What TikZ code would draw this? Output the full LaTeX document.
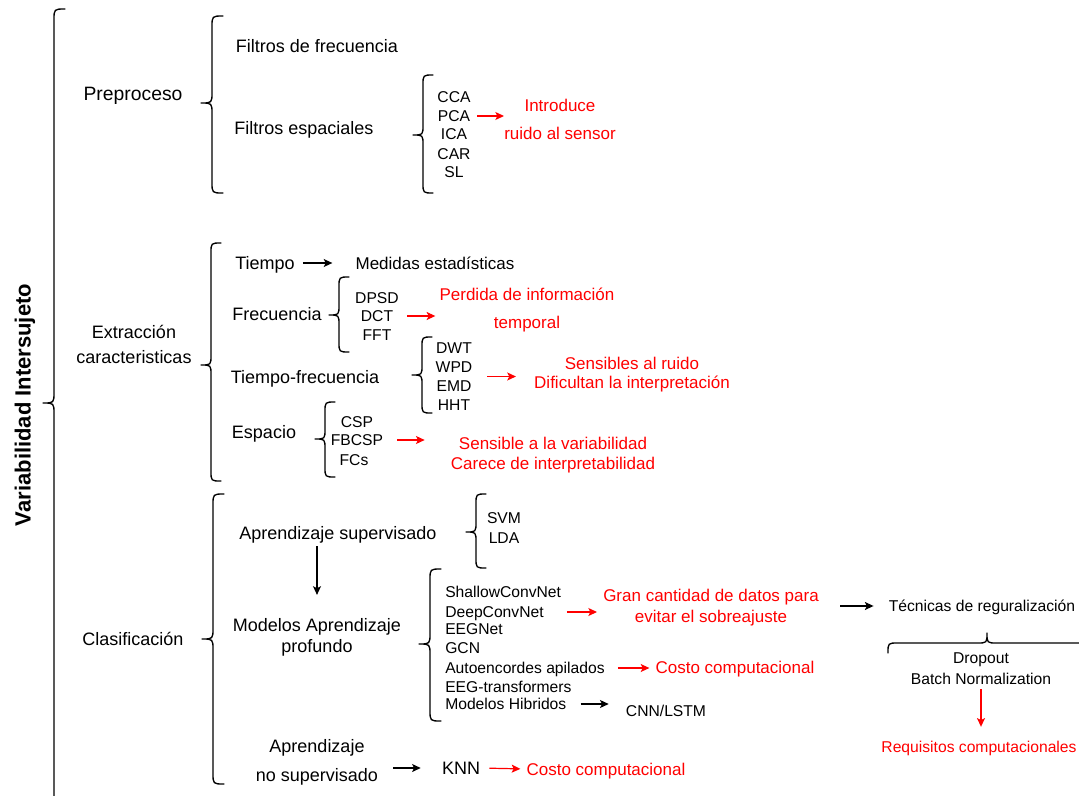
\documentclass[tikz,border=0pt]{standalone}
\usepackage{fontspec}
\setmainfont{Liberation Sans}
\usetikzlibrary{arrows.meta}
\tikzset{
 big/.style={font=\fontsize{13.5}{16}\selectfont, inner sep=0pt, text height=9.7pt, text depth=0pt},
 sm/.style={font=\fontsize{11.75}{14}\selectfont, inner sep=0pt, text height=8.5pt, text depth=0pt},
 mid/.style={font=\fontsize{12.75}{15}\selectfont, inner sep=0pt, text height=9.2pt, text depth=0pt},
 rone/.style={mid, text=red},
 ml/.style={inner sep=0pt, align=center},
 rml/.style={inner sep=0pt, align=center, text=red},
 bracestyle/.style={line width=1pt, line cap=round, line join=round},
 ba/.style={-{Stealth[length=6.5pt,width=6pt,inset=1.5pt]}, line width=0.9pt},
 ra/.style={ba, draw=red},
}
\newcommand{\mybrace}[5]{%
 \draw[bracestyle] ({#1+#5},#2) .. controls (#1,#2) .. (#1,{#2+#5}) -- (#1,{#4-#5})
   .. controls (#1,#4) .. ({#1-#5},#4) .. controls (#1,#4) .. (#1,{#4+#5})
   -- (#1,{#3-#5}) .. controls (#1,#3) .. ({#1+#5},#3);}
\begin{document}
\begin{tikzpicture}[x=0.75pt,y=-0.75pt]
\useasboundingbox (0,0) rectangle (1079,796);
\fill[white] (0,0) rectangle (1079,796);

% title
\node[rotate=90, font=\bfseries\fontsize{16.5}{20}\selectfont, inner sep=0pt] (vi) at (25,405) {Variabilidad Intersujeto};

% braces
\mybrace{54}{9}{808}{403}{11}
\mybrace{212}{16}{193}{103}{11}
\mybrace{423}{75}{193}{135}{10}
\mybrace{211}{243}{481}{365}{10}
\mybrace{339}{277}{352}{315}{10}
\mybrace{422}{337}{413}{375}{10}
\mybrace{325}{402}{477}{439}{10}
\mybrace{213}{494}{784}{639}{11}
\mybrace{476}{494}{568}{532}{10}
\mybrace{430}{569}{721}{644}{11}
\draw[bracestyle] (888,653) .. controls (888,643) .. (898,643) -- (977,643)
  .. controls (987,643) .. (987,633) .. controls (987,643) .. (997,643) -- (1085,643);

% Preproceso
\node[big, font=\fontsize{14.5}{17}\selectfont, text height=10.4pt] (pre) at (133,94) {Preproceso};
\node[big] (ff) at (317,46) {Filtros de frecuencia};
\node[big] (fe) at (304,128) {Filtros espaciales};
\node[sm] (cca) at (454,97) {CCA};
\node[sm] (pca) at (454,116) {PCA};
\node[sm] (ica) at (454,134) {ICA};
\node[sm] (car) at (454,154) {CAR};
\node[sm] (sl) at (454,172) {SL};
\node[rml, font=\fontsize{12.75}{21}\selectfont] (intro) at (560,119) {Introduce\\ruido al sensor};

% Extraccion
\node[ml, font=\fontsize{13.5}{18.75}\selectfont] (ext) at (134,344) {Extracción\\caracteristicas};
\node[big] (tie) at (265,263) {Tiempo};
\node[mid] (med) at (435,263) {Medidas estadísticas};
\node[big] (fre) at (277,314) {Frecuencia};
\node[sm] (dpsd) at (377,298) {DPSD};
\node[sm] (dct) at (377,316) {DCT};
\node[sm] (fft) at (377,335) {FFT};
\node[rml, font=\fontsize{12.75}{21}\selectfont] (per) at (527,310) {Perdida de información\\temporal};
\node[big] (tf) at (305,377) {Tiempo-frecuencia};
\node[ml, font=\fontsize{11.75}{14.25}\selectfont] (dwtl) at (454,376.5) {DWT\\WPD\\EMD\\HHT};
\node[rml, font=\fontsize{12.75}{14.25}\selectfont] (sen) at (632,374.5) {Sensibles al ruido\\Dificultan la interpretación};
\node[big] (esp) at (264,432) {Espacio};
\node[sm] (csp) at (357,422) {CSP};
\node[sm] (fbcsp) at (357,440) {FBCSP};
\node[sm] (fcs) at (354,460) {FCs};
\node[rml, font=\fontsize{12.75}{15}\selectfont] (sva) at (553,455) {Sensible a la variabilidad\\Carece de interpretabilidad};

% Clasificacion
\node[big] (cla) at (133,639) {Clasificación};
\node[big] (as) at (338,533) {Aprendizaje supervisado};
\node[sm] (svm) at (504,518) {SVM};
\node[sm] (lda) at (504,538) {LDA};
\node[ml, font=\fontsize{13.5}{15.75}\selectfont] (mad) at (317,637.5) {Modelos Aprendizaje\\profundo};
\node[sm, anchor=west] (sh) at (445,592) {ShallowConvNet};
\node[sm, anchor=west] (dc) at (445,612) {DeepConvNet};
\node[sm, anchor=west] (eeg) at (445,629) {EEGNet};
\node[sm, anchor=west] (gcn) at (445,648) {GCN};
\node[sm, anchor=west] (ae) at (445,668) {Autoencordes apilados};
\node[sm, anchor=west] (et) at (445,687) {EEG-transformers};
\node[sm, anchor=west] (mh) at (445,704) {Modelos Hibridos};
\node[rml, font=\fontsize{12.75}{15.75}\selectfont] (gran) at (711,607.5) {Gran cantidad de datos para\\evitar el sobreajuste};
\node[sm] (tec) at (982,606) {Técnicas de reguralización};
\node[ml, font=\fontsize{11.75}{15.5}\selectfont] (drop) at (981,668.5) {Dropout\\Batch Normalization};
\node[sm, text=red] (req) at (979,747) {Requisitos computacionales};
\node[rone] (cc1) at (735,667) {Costo computacional};
\node[sm] (cnn) at (666,711) {CNN/LSTM};
\node[ml, font=\fontsize{13.5}{21.75}\selectfont] (ans) at (317,762.5) {Aprendizaje\\no supervisado};
\node[big] (knn) at (461,768) {KNN};
\node[rone] (cc2) at (606,769) {Costo computacional};

% arrows
\draw[ra, shorten <=5.25pt] (pca.east) -- (pca.east -| intro.west);
\draw[ba, shorten <=6pt, shorten >=17.25pt] (tie.east) -- (med.west);
\draw[ra, shorten <=10.5pt, shorten >=3pt] (dct.east) -- (dct.east -| per.west);
\draw[ra, shorten <=10.9pt, shorten >=13.5pt] (dwtl.east) -- (dwtl.east -| sen.west);
\draw[ra, shorten <=10.5pt, shorten >=19.5pt] (fbcsp.east) -- (fbcsp.east -| sva.west);
\draw[ba, shorten <=4.9pt, shorten >=17.6pt] (mad.north |- as.south) -- (mad.north);
\draw[ra, shorten <=17.25pt, shorten >=4.5pt] (dc.east) -- (dc.east -| gran.west);
\draw[ba, shorten <=15.75pt, shorten >=11.25pt] (gran.east |- tec.west) -- (tec.west);
\draw[ra, shorten <=9.75pt, shorten >=4.5pt] (ae.east) -- (ae.east -| cc1.west);
\draw[ba, shorten <=10.5pt, shorten >=12.75pt] (mh.east) -- (mh.east -| cnn.west);
\draw[ba, shorten <=11.25pt, shorten >=15.75pt] (ans.east |- knn.west) -- (knn.west);
\draw[ra, shorten <=6.75pt, shorten >=4.5pt] (knn.east) -- (cc2.west);
\draw[ra, shorten <=3.4pt, shorten >=10.7pt] (drop.south) -- (drop.south |- req.north);
\end{tikzpicture}
\end{document}
